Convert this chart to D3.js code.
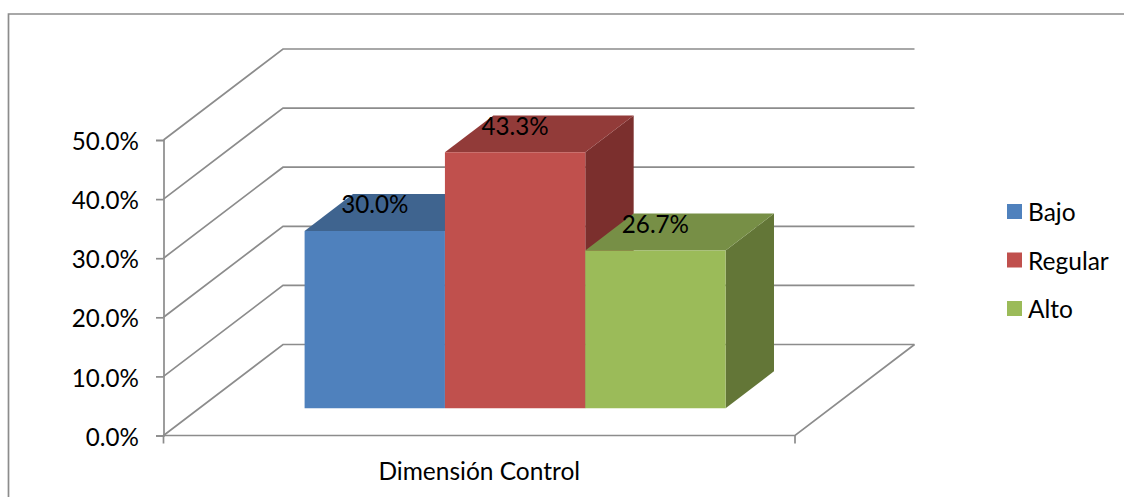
<!DOCTYPE html>
<html>
<head>
<meta charset="utf-8">
<script src="https://cdn.jsdelivr.net/npm/d3@7/dist/d3.min.js"></script>
<style>
  html, body { margin: 0; padding: 0; background: #fff; }
  svg { display: block; }
  text { font-family: Lato, "Open Sans", sans-serif; fill: #000; }
</style>
</head>
<body>
<svg id="chart" width="1124" height="497"></svg>
<script>
const seriesNames = ["Bajo", "Regular", "Alto"];
const seriesValues = [30.0, 43.3, 26.7];
const categoryLabel = "Dimensión Control";
const yTicks = [0, 10, 20, 30, 40, 50];
const frontColors = ["#4F81BD", "#C0504D", "#9BBB59"];
const topColors = ["#3F648F", "#923B39", "#778F46"];
const sideColors = ["#375C88", "#7B2F2D", "#637637"];

const gridColor = "#8C8C8C";
const wordSize = 24.5;
const numberSize = 24.2;

const svg = d3.select("#chart");

const y = d3.scaleLinear().domain([0, 50]).range([435.5, 140]);
const band = d3.scaleBand()
  .domain(seriesNames)
  .range([163.5, 795])
  .paddingInner(0)
  .paddingOuter(0.75);

// Oblique projection: depth 0 is the front of the floor, depth 1 the back wall.
const depthX = 119.5, depthY = 91;
const project = (px, value, depth) => [px + depth * depthX, y(value) - depth * depthY];
const barNear = 0.3, barFar = 0.705;

const poly = pts => "M" + pts.map(p => p.join(",")).join("L") + "Z";
const open = pts => "M" + pts.map(p => p.join(",")).join("L");

// Chart frame, open at the right and bottom edges of the page
svg.append("path")
  .attr("d", open([[8.5, 497], [8.5, 14], [1124, 14]]))
  .attr("fill", "none").attr("stroke", gridColor).attr("stroke-width", 1.7);

// Gridlines running along the side wall and back wall
const x0 = band.range()[0], x1 = band.range()[1];
svg.append("g").selectAll("path").data(yTicks).join("path")
  .attr("d", t => open([project(x0, t, 0), project(x0, t, 1), project(x1, t, 1)]))
  .attr("fill", "none").attr("stroke", gridColor).attr("stroke-width", 1.7);

// Floor edges
svg.append("path")
  .attr("d", open([project(x0, 0, 0), project(x1, 0, 0), project(x1, 0, 1)]))
  .attr("fill", "none").attr("stroke", gridColor).attr("stroke-width", 1.7);

// Value axis
const yAxis = d3.axisLeft(y)
  .tickValues(yTicks)
  .tickSize(7.5)
  .tickPadding(17)
  .tickFormat(d => d3.format(".1f")(d) + "%");
const yG = svg.append("g").attr("transform", `translate(${x0},0)`).call(yAxis);
yG.attr("font-family", null);
yG.selectAll("line").attr("stroke", gridColor).attr("stroke-width", 1.7);
yG.select(".domain").attr("stroke", gridColor).attr("stroke-width", 1.7);
yG.selectAll("text").attr("font-size", numberSize).attr("dy", "0.4em");

// Category axis ticks at both ends of the floor
svg.append("g").selectAll("line").data([x0, x1]).join("line")
  .attr("x1", d => d).attr("x2", d => d)
  .attr("y1", y(0)).attr("y2", y(0) + 8)
  .attr("stroke", gridColor).attr("stroke-width", 1.7);

svg.append("text")
  .attr("x", (x0 + x1) / 2).attr("y", 470)
  .attr("text-anchor", "middle").attr("dominant-baseline", "central")
  .attr("font-size", wordSize)
  .text(categoryLabel);

// Bars, each made of a front, top and side face
const bars = svg.append("g").selectAll("g").data(seriesNames).join("g");
bars.each(function (name, i) {
  const g = d3.select(this);
  const v = seriesValues[i];
  const l = band(name), r = l + band.bandwidth();
  g.append("path")
    .attr("d", poly([project(r, 0, barNear), project(r, v, barNear), project(r, v, barFar), project(r, 0, barFar)]))
    .attr("fill", sideColors[i]);
  g.append("path")
    .attr("d", poly([project(l, v, barNear), project(r, v, barNear), project(r, v, barFar), project(l, v, barFar)]))
    .attr("fill", topColors[i]);
  g.append("path")
    .attr("d", poly([project(l, 0, barNear), project(r, 0, barNear), project(r, v, barNear), project(l, v, barNear)]))
    .attr("fill", frontColors[i]);
});

// Value labels sit over the top face of each bar
svg.append("g").selectAll("text").data(seriesNames).join("text")
  .attr("x", d => project(band(d) + band.bandwidth() / 2, 0, barNear)[0])
  .attr("y", (d, i) => project(0, seriesValues[i], barNear)[1] - 27)
  .attr("text-anchor", "middle").attr("dominant-baseline", "central")
  .attr("font-size", numberSize)
  .text((d, i) => d3.format(".1f")(seriesValues[i]) + "%");

// Legend
const legendY = d3.scalePoint().domain(seriesNames).range([211.5, 308.5]);
const legend = svg.append("g").selectAll("g").data(seriesNames).join("g")
  .attr("transform", d => `translate(1007,${legendY(d)})`);
legend.append("rect")
  .attr("x", 0).attr("y", -7.5).attr("width", 15).attr("height", 15)
  .attr("fill", (d, i) => frontColors[i]);
legend.append("text")
  .attr("x", 21).attr("y", 0)
  .attr("dominant-baseline", "central")
  .attr("font-size", wordSize)
  .text(d => d);
</script>
</body>
</html>
